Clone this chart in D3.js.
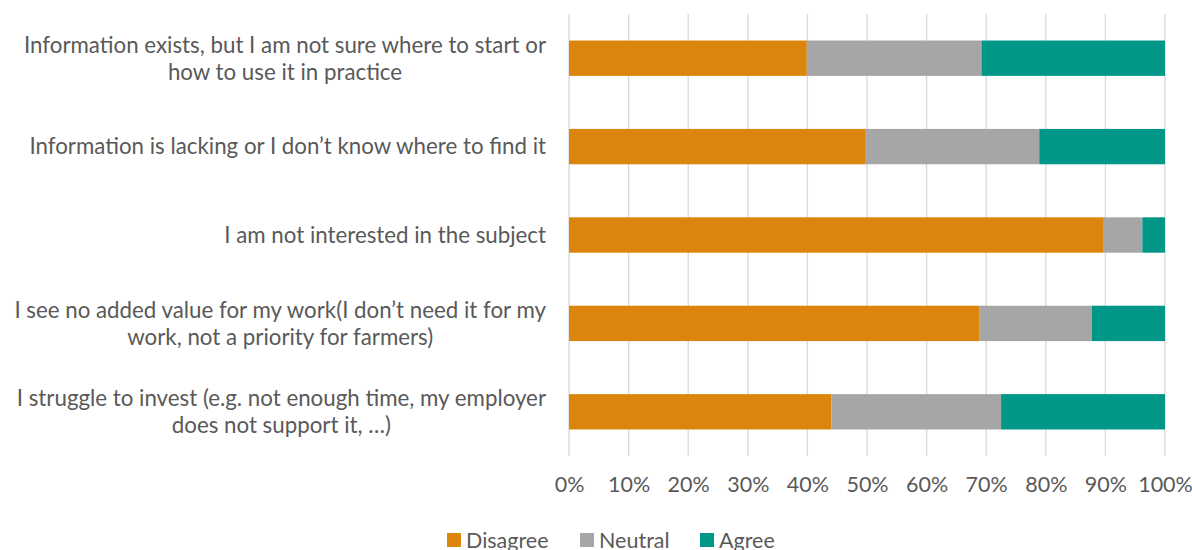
<!DOCTYPE html>
<html>
<head>
<meta charset="utf-8">
<script src="https://cdn.jsdelivr.net/npm/d3@7"></script>
<style>
  html, body { margin: 0; padding: 0; background: #fff; }
  svg { display: block; font-family: Lato, "Open Sans", sans-serif; }
</style>
</head>
<body>
<svg id="chart" width="1192" height="550"></svg>
<script>
// Survey statements (top to bottom), wrapped the way they are shown
const categories = [
  ["Information exists, but I am not sure where to start or", "how to use it in practice"],
  ["Information is lacking or I don\u2019t know where to find it"],
  ["I am not interested in the subject"],
  ["I see no added value for my work(I don\u2019t need it for my", "work, not a priority for farmers)"],
  ["I struggle to invest (e.g. not enough time, my employer", "does not support it, \u2026)"]
];
const seriesNames = ["Disagree", "Neutral", "Agree"];
// Shares per statement (in %)
const disagree = [39.9, 49.8, 89.6, 68.9, 44.0];
const neutral  = [29.3, 29.1,  6.6, 18.8, 28.5];
const agree    = [30.8, 21.1,  3.8, 12.3, 27.5];
const tickValues = [0, 10, 20, 30, 40, 50, 60, 70, 80, 90, 100];

const colors = ["#DB850D", "#A6A6A6", "#009688"];

const svg = d3.select("#chart");
const margin = { left: 569, right: 27, top: 14, bottom: 94 };
const W = 1192, H = 550;

const rows = categories.map((c, i) => ({
  key: i, label: c,
  Disagree: disagree[i], Neutral: neutral[i], Agree: agree[i]
}));

const x = d3.scaleLinear().domain([0, 100]).range([margin.left, W - margin.right]);
const y = d3.scaleBand().domain(rows.map(r => r.key))
  .range([margin.top, H - margin.bottom]).paddingInner(0.6).paddingOuter(0.3);

// vertical gridlines
svg.append("g").selectAll("line").data(tickValues).join("line")
  .attr("x1", d => x(d)).attr("x2", d => x(d))
  .attr("y1", margin.top).attr("y2", H - margin.bottom)
  .attr("stroke", "#D9D9D9").attr("stroke-width", 1.3);

// stacked bars
const stack = d3.stack().keys(seriesNames);
const layers = stack(rows);
svg.append("g").selectAll("g").data(layers).join("g")
  .attr("fill", (d, i) => colors[i])
  .selectAll("rect").data(d => d).join("rect")
  .attr("x", d => x(d[0]))
  .attr("width", d => x(d[1]) - x(d[0]))
  .attr("y", d => y(d.data.key))
  .attr("height", y.bandwidth());

// x axis tick labels
const xAxis = d3.axisBottom(x).tickValues(tickValues).tickFormat(d => d + "%").tickSize(0).tickPadding(0);
const gx = svg.append("g").attr("transform", `translate(0, ${H - margin.bottom + 21})`).call(xAxis);
gx.select(".domain").remove();
gx.selectAll("text").attr("fill", "#595959").style("font-size", "21.5px").style("font-family", "Lato, sans-serif");

// category labels: wrapped lines centered in a block right-aligned to the axis
const labelRight = 546;
const lineH = 27;
const lg = svg.append("g").attr("fill", "#595959").style("font-size", "22.3px");
rows.forEach(r => {
  const cy = y(r.key) + y.bandwidth() / 2;
  const t = lg.append("text").attr("text-anchor", "middle");
  const n = r.label.length;
  const spans = r.label.map((line, j) => t.append("tspan")
    .attr("y", cy + (j - (n - 1) / 2) * lineH)
    .attr("dy", "0.35em").text(line));
  const wmax = d3.max(spans, s => s.node().getComputedTextLength());
  spans.forEach(s => s.attr("x", labelRight - wmax / 2));
});

// legend
const legend = svg.append("g").attr("transform", "translate(0, 540)");
const items = [{ n: seriesNames[0], x: 447 }, { n: seriesNames[1], x: 580 }, { n: seriesNames[2], x: 700 }];
items.forEach((it, i) => {
  legend.append("rect").attr("x", it.x).attr("y", -7).attr("width", 14).attr("height", 14).attr("fill", colors[i]);
  legend.append("text").attr("x", it.x + 19).attr("y", 0).attr("dy", "0.35em")
    .attr("fill", "#595959").style("font-size", "21.5px").text(it.n);
});
</script>
</body>
</html>
